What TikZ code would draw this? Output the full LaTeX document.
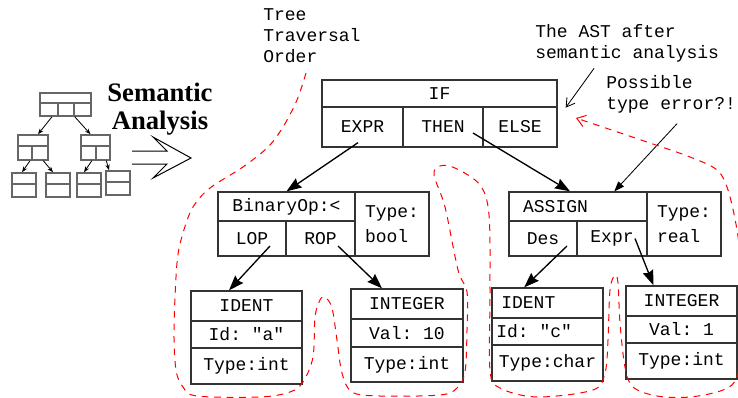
\documentclass[tikz,border=0pt]{standalone}
\usepackage{fontspec}
\setmainfont{Liberation Serif}
\setmonofont{Liberation Mono}
\usetikzlibrary{arrows.meta,positioning}
\begin{document}
\begin{tikzpicture}[x=0.6pt, y=-0.6pt,
    cell/.style 2 args={draw=black!80, line width=0.8pt, inner sep=0pt,
      minimum width=#1*0.6pt, minimum height=#2*0.6pt, align=left,
      font=\ttfamily\fontsize{10.8}{15}\selectfont},
    mini/.style 2 args={draw=black!60, line width=0.9pt, inner sep=0pt,
      minimum width=#1*0.6pt, minimum height=#2*0.6pt},
    note/.style={inner sep=0pt, anchor=west, align=left,
      font=\ttfamily\fontsize{10.8}{12.6}\selectfont},
    tree/.style={-{Stealth[length=9pt,width=6.5pt,inset=1pt]}, line width=0.8pt},
    minitree/.style={-{Stealth[length=3.5pt,width=2.6pt]}, line width=0.5pt},
    hint/.style={line width=0.5pt},
    walk/.style={red, line width=0.6pt, dash pattern=on 4pt off 3.5pt,
      -{Straight Barb[length=5pt,width=7pt]}}]
  \useasboundingbox (0,0) rectangle (738,398);

  \node[mini={51}{10}] (icA) at (65.5,98) {};
  \node[mini={18}{13}] (icA1) at (49,109.5) {};
  \node[mini={16}{13}] (icA2) at (66,109.5) {};
  \node[mini={17}{13}] (icA3) at (82.5,109.5) {};
  \node[mini={30}{11}] (icB) at (33,140.5) {};
  \node[mini={14}{14}] (icB1) at (25,153) {};
  \node[mini={16}{14}] (icB2) at (40,153) {};
  \node[mini={29}{11}] (icC) at (95.5,140.5) {};
  \node[mini={15}{14}] (icC1) at (88.5,153) {};
  \node[mini={14}{14}] (icC2) at (103,153) {};
  \node[mini={24}{11}] (icL1a) at (24,178.5) {};
  \node[mini={24}{13}] (icL1b) at (24,190.5) {};
  \node[mini={24}{11}] (icL2a) at (58,178.5) {};
  \node[mini={24}{13}] (icL2b) at (58,190.5) {};
  \node[mini={24}{11}] (icL3a) at (89,178.5) {};
  \node[mini={24}{13}] (icL3b) at (89,190.5) {};
  \node[mini={24}{11}] (icL4a) at (118,176.5) {};
  \node[mini={24}{13}] (icL4b) at (118,188.5) {};
  \draw[minitree] ([xshift=1.8pt]icA1.south) -- ([xshift=3pt]icB.north);
  \draw[minitree] (icA2.south east) -- ([xshift=-3pt]icC.north);
  \draw[minitree] ([xshift=3pt]icB1.south) -- ([xshift=-1.2pt]icL1a.north);
  \draw[minitree] ([xshift=2pt]icB2.south) -- ([xshift=-3pt]icL2a.north);
  \draw[minitree] ([xshift=2pt]icC1.south) -- ([xshift=-3pt]icL3a.north);
  \draw[minitree] ([xshift=2pt]icC2.south) -- ([xshift=-5.4pt]icL4a.north);

  \node[inner sep=0pt, align=center, font=\bfseries\fontsize{16}{16.8}\selectfont]
    (semtitle) at (160,109) {Semantic\\Analysis};
  \draw[line width=0.6pt] (132,151) -- (167,151) -- (153,137) -- (191,158)
    -- (153,178) -- (167,164) -- (132,164);

  \node[note] (order) at (263,36) {Tree\\Traversal\\Order};
  \node[note] (astnote) at (535,43) {The AST after\\semantic analysis};
  \node[note] (errnote) at (606,94.5) {Possible\\type error?!};

  \node[cell={235}{27}] (ifhead) at (439.5,93.5) {IF};
  \node[cell={81}{40}] (ifexpr) at (362.5,127) {EXPR};
  \node[cell={80}{40}] (ifthen) at (443,127) {THEN};
  \node[cell={74}{40}] (ifelse) at (520,127) {ELSE};

  \node[cell={137}{29}] (binhead) at (286.5,206.5) {BinaryOp:<};
  \node[cell={68}{35}] (binlop) at (252,238.5) {LOP};
  \node[cell={69}{35}] (binrop) at (320.5,238.5) {ROP};
  \node[cell={74}{64}] (bintype) at (392,224) {Type:\\bool};

  \node[cell={138}{29}] (ashead) at (578,206.5) {ASSIGN\hspace*{27pt}};
  \node[cell={68}{35}] (asdes) at (543,238.5) {Des};
  \node[cell={70}{35}] (asexpr) at (612,238.5) {Expr};
  \node[cell={74}{64}] (astype) at (684,224) {Type:\\real};

  \node[cell={111}{30}] (idahead) at (246.5,306) {IDENT};
  \node[cell={111}{27}] (idaval) at (246.5,334.5) {Id: "a"};
  \node[cell={111}{36}] (idatype) at (246.5,366) {Type:int};

  \node[cell={112}{30}] (in10head) at (407,304) {INTEGER};
  \node[cell={112}{28}] (in10val) at (407,333) {Val: 10};
  \node[cell={112}{35}] (in10type) at (407,364.5) {Type:int};

  \node[cell={111}{30}] (idchead) at (547.5,303) {IDENT\hspace*{23pt}};
  \node[cell={111}{27}] (idcval) at (547.5,331.5) {Id: "c"\hspace*{16pt}};
  \node[cell={111}{36}] (idctype) at (547.5,363) {Type:char};

  \node[cell={111}{30}] (in1head) at (681.5,301) {INTEGER};
  \node[cell={111}{27}] (in1val) at (681.5,329.5) {Val: 1};
  \node[cell={111}{36}] (in1type) at (681.5,361) {Type:int};

  \draw[tree] ([xshift=-2.7pt,yshift=3pt]ifexpr.south) -- (binhead.north);
  \draw[tree] ([xshift=18pt,yshift=-3.6pt]ifthen.center) -- ([xshift=-4.8pt]ashead.north);
  \draw[tree] ([xshift=10.8pt,yshift=-4.5pt]binlop.center) -- ([xshift=-10.5pt]idahead.north);
  \draw[tree] ([xshift=10.5pt,yshift=-4.5pt]binrop.center) -- ([xshift=-15pt]in10head.north);
  \draw[tree] ([xshift=14.4pt,yshift=-4.5pt]asdes.center) -- ([xshift=-14pt]idchead.north);
  \draw[tree] ([xshift=13.8pt]asexpr.center) -- ([xshift=-16.8pt]in1head.north);

  \draw[hint, -{Straight Barb[length=5pt,width=6pt]}]
    ([xshift=-19.8pt,yshift=-3.6pt]astnote.south) -- ([xshift=4.8pt]ifhead.south east);
  \draw[hint, -{Stealth[length=6pt,width=4.5pt,inset=0pt]}]
    ([xshift=3.5pt,yshift=-6pt]errnote.south) -- ([xshift=-20pt]ashead.north east);

  \draw[walk] plot[smooth, tension=0.55] coordinates {
    (306,73) (297,100) (283,127) (268,147) (243,167) (210,188) (193,207)
    (183,233) (177,263) (174,330) (176,370) (183,387) (197,396) (260,397)
    (290,392) (303,382) (313,357) (315,317) (320,300) (325,297) (332,308)
    (337,340) (342,373) (352,392) (380,396) (440,395) (457,388) (465,372)
    (467,330) (467,292) (458,270) (445,207) (434,175) (440,166) (455,168)
    (480,185) (489,215) (490,290) (490,370) (500,388) (537,397) (593,390)
    (605,373) (608,340) (610,290) (615,275) (618,283) (620,323) (625,367)
    (633,387) (657,396) (690,397) (723,390) (737,377) (741,340) (741,270)
    (737,230) (728,190) (717,170) (690,157) (647,142) (576,118)};
\end{tikzpicture}
\end{document}
